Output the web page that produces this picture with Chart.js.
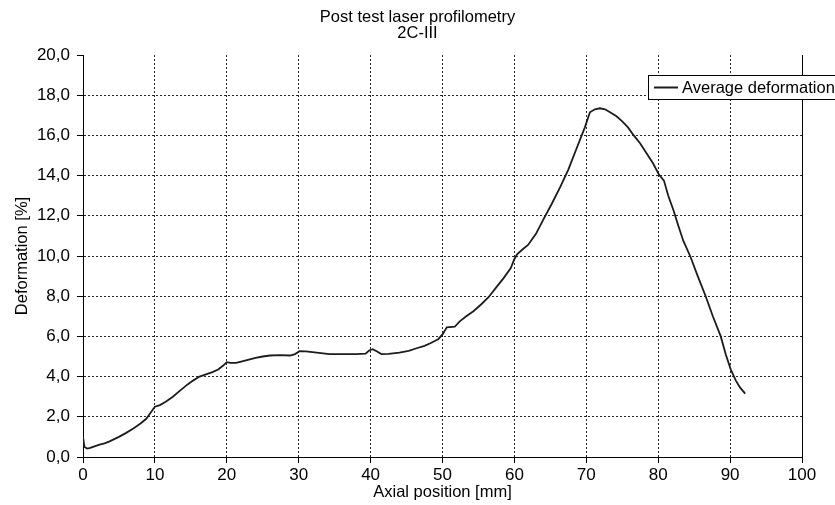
<!DOCTYPE html>
<html>
<head>
<meta charset="utf-8">
<script src="https://cdn.jsdelivr.net/npm/chart.js@4.4.1/dist/chart.umd.min.js"></script>
<style>
  html, body { margin: 0; padding: 0; background: #fff; }
  canvas { display: block; }
</style>
</head>
<body>
<canvas id="graficoPerfilometria" width="835" height="505"></canvas>
<script>
// posicao axial [mm] e deformacao media [%]
const axialPosition = [
  0, 0.2, 0.6, 1, 1.5, 2.3, 3, 3.7, 5, 6, 7, 8, 8.8, 9.5, 10, 10.7, 11.5, 12.5, 13.5, 14.5,
  15.3, 16.2, 17, 18, 18.8, 19.5, 20, 20.5, 21.3, 22, 23.2, 24, 25, 26, 27.4, 28.8, 29.5, 30.1, 31, 32.5,
  34.3, 36, 38, 39.3, 39.8, 40.3, 40.9, 41.5, 42.5, 44, 45.3, 46.4, 47.5, 48.3, 49.4, 50, 50.6, 51.7, 52.4, 53.3,
  54.3, 55.4, 56.4, 57.5, 58.5, 59.5, 60, 60.4, 61.2, 61.9, 63, 64, 65.2, 66.4, 67.5, 68.7, 69.8, 70.5, 71.2, 71.9,
  72.6, 73.3, 74.2, 75, 75.8, 76.6, 77.5, 78.4, 79.3, 80.1, 80.8, 81.4, 82.1, 82.8, 83.5, 84.5, 85.5, 86.6, 87.6, 88.7,
  89.4, 90.1, 90.8, 91.4, 92.1
];
const averageDeformation = [
  1.0, 0.5, 0.42, 0.45, 0.52, 0.62, 0.68, 0.78, 1.0, 1.2, 1.42, 1.67, 1.9, 2.25, 2.5, 2.58, 2.75, 3.0, 3.3, 3.6,
  3.8, 4.0, 4.1, 4.22, 4.35, 4.55, 4.72, 4.68, 4.68, 4.75, 4.86, 4.93, 5.0, 5.05, 5.07, 5.05, 5.12, 5.26, 5.25, 5.19,
  5.12, 5.12, 5.12, 5.14, 5.3, 5.36, 5.25, 5.12, 5.13, 5.19, 5.28, 5.41, 5.53, 5.66, 5.86, 6.1, 6.45, 6.48, 6.75, 7.0,
  7.25, 7.6, 7.95, 8.45, 8.9, 9.4, 9.85, 10.1, 10.35, 10.55, 11.1, 11.8, 12.6, 13.45, 14.3, 15.4, 16.4, 17.15, 17.3, 17.35,
  17.3, 17.15, 16.95, 16.7, 16.4, 16.0, 15.6, 15.1, 14.6, 14.05, 13.75, 13.0, 12.3, 11.5, 10.75, 9.95, 9.0, 8.0, 7.0, 6.0,
  5.1, 4.35, 3.8, 3.45, 3.15
];
const titleLines = ["Post test laser profilometry", "2C-III"];
const seriesLabel = "Average deformation";
const xRange = [0, 100, 10];
const yRange = [0, 20, 2];

const fonte = "'Liberation Sans', Arial, sans-serif";

// borda direita da area do grafico (linha continua)
const bordaDireita = {
  id: "bordaDireita",
  afterDatasetsDraw(chart) {
    const { ctx, chartArea, scales } = chart;
    const x = Math.round(scales.x.getPixelForValue(xRange[1])) + 0.5;
    ctx.save();
    ctx.strokeStyle = "#000";
    ctx.lineWidth = 1;
    ctx.beginPath();
    ctx.moveTo(x, chartArea.top);
    ctx.lineTo(x, chartArea.bottom);
    ctx.stroke();
    ctx.restore();
  },
};

// legenda em caixa, cortada na margem direita como no original
const legendaCaixa = {
  id: "legendaCaixa",
  afterDraw(chart) {
    const ctx = chart.ctx;
    const ds = chart.data.datasets[0];
    ctx.save();
    ctx.fillStyle = "#fff";
    ctx.strokeStyle = "#000";
    ctx.lineWidth = 1;
    ctx.fillRect(648, 75, 200, 24);
    ctx.strokeRect(648.5, 75.5, 200, 24);
    ctx.strokeStyle = ds.borderColor;
    ctx.lineWidth = 2;
    ctx.beginPath();
    ctx.moveTo(654, 87.5);
    ctx.lineTo(678, 87.5);
    ctx.stroke();
    ctx.fillStyle = "#000";
    ctx.font = "16.5px " + fonte;
    ctx.textBaseline = "middle";
    ctx.fillText(ds.label, 682, 88);
    ctx.restore();
  },
};

const canvas = document.getElementById("graficoPerfilometria");
const ctx = canvas.getContext("2d");

const gridCor = (limite) => (c) =>
  c.tick && c.tick.value === limite ? "rgba(0,0,0,0)" : "rgba(0,0,0,0.85)";

new Chart(ctx, {
  type: "line",
  data: {
    datasets: [
      {
        label: seriesLabel,
        data: axialPosition.map((x, i) => ({ x: x, y: averageDeformation[i] })),
        borderColor: "#1c1c1c",
        borderWidth: 1.8,
        pointRadius: 0,
        tension: 0,
        fill: false,
      },
    ],
  },
  options: {
    responsive: false,
    animation: false,
    layout: { padding: 0 },
    plugins: {
      legend: { display: false },
      tooltip: { enabled: false },
      title: {
        display: true,
        text: titleLines,
        color: "#000",
        font: { family: fonte, size: 16.5, weight: "normal", lineHeight: 1 },
        padding: { top: 9, bottom: 13 },
      },
    },
    scales: {
      x: {
        type: "linear",
        min: xRange[0],
        max: xRange[1],
        afterFit(scale) { scale.height = 48; },
        ticks: {
          stepSize: xRange[2],
          color: "#000",
          padding: 2,
          maxRotation: 0,
          font: { family: fonte, size: 17 },
        },
        grid: {
          color: gridCor(xRange[1]),
          tickColor: "#000",
          tickLength: 6,
          lineWidth: 1,
        },
        border: { color: "#000", width: 1, dash: [2, 2] },
        title: {
          display: true,
          text: "Axial position [mm]",
          color: "#000",
          font: { family: fonte, size: 16.5 },
          padding: { top: 0, bottom: 3 },
        },
      },
      y: {
        type: "linear",
        min: yRange[0],
        max: yRange[1],
        afterFit(scale) { scale.width = 83; },
        ticks: {
          stepSize: yRange[2],
          color: "#000",
          padding: 7,
          font: { family: fonte, size: 17 },
          callback: (v) => v.toFixed(1).replace(".", ","),
        },
        grid: {
          color: gridCor(yRange[1]),
          tickColor: "#000",
          tickLength: 6,
          lineWidth: 1,
        },
        border: { color: "#000", width: 1, dash: [2, 2] },
        title: {
          display: true,
          text: "Deformation [%]",
          color: "#000",
          font: { family: fonte, size: 16.5 },
          padding: { top: 13, bottom: 0 },
        },
      },
      // margem direita vazia (so para reservar espaco, como no original)
      margemDireita: {
        type: "linear",
        position: "right",
        display: true,
        afterFit(scale) { scale.width = 33; },
        ticks: { display: false },
        grid: { display: false, drawTicks: false },
        border: { display: false },
      },
    },
  },
  plugins: [bordaDireita, legendaCaixa],
});
</script>
</body>
</html>
